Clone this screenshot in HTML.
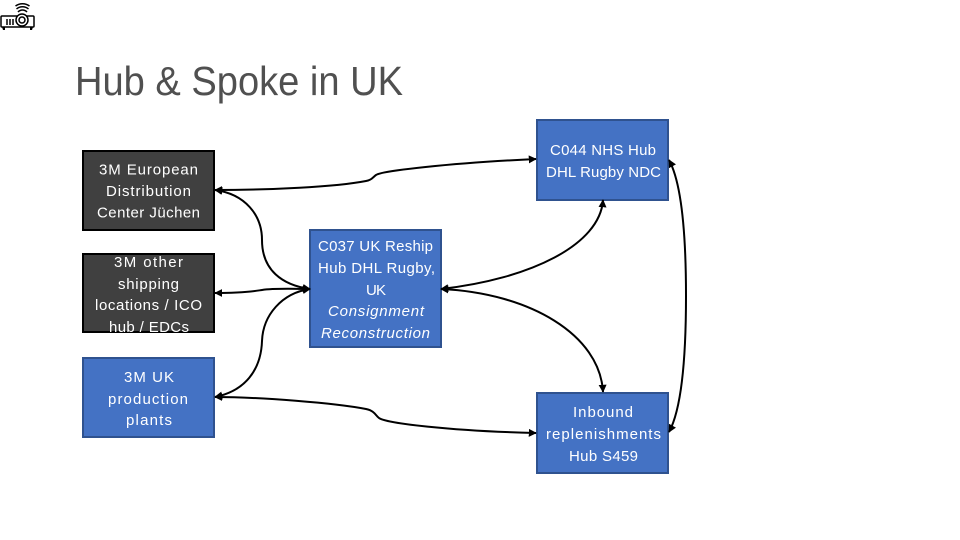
<!DOCTYPE html>
<html><head><meta charset="utf-8"><style>
html,body{margin:0;padding:0;background:#fff}
svg{display:block}
text{font-family:"Liberation Sans",sans-serif;font-size:15px;fill:#fff}
.c{fill:none;stroke:#000;stroke-width:2}
</style></head><body>
<svg width="960" height="540" viewBox="0 0 960 540" xmlns="http://www.w3.org/2000/svg">
<defs>
<marker id="a" viewBox="0 0 10 10" refX="9" refY="5" markerWidth="4" markerHeight="4" orient="auto-start-reverse"><path d="M0 0L10 5L0 10z" fill="#000"/></marker>
</defs>
<rect width="960" height="540" fill="#fff"/>
<!-- projector icon -->
<g fill="none" stroke="#000" stroke-width="1.5">
<rect x="1" y="16" width="33" height="11" rx="1"/>
<circle cx="22" cy="20" r="6" fill="#fff"/><circle cx="22" cy="20" r="3"/>
<path d="M7 19v6M10 19v6M13 19v6"/>
<path d="M18 12a6 6 0 0 1 9 0M16.500 9a9 9 0 0 1 12 0M15.500 6a12 12 0 0 1 14 0"/>
</g>
<path d="M2 27h3v3h-2zM30 27h3l-1 3h-2z" fill="#000"/>
<text x="75" y="95" textLength="328" lengthAdjust="spacingAndGlyphs" style="font-size:41px;fill:#505050">Hub &amp; Spoke in UK</text>
<!-- boxes -->
<g stroke-width="2">
<rect x="83" y="151" width="131" height="79" fill="#404040" stroke="#000"/>
<rect x="83" y="254" width="131" height="78" fill="#404040" stroke="#000"/>
<rect x="83" y="358" width="131" height="79" fill="#4472c4" stroke="#2f528f"/>
<rect x="310" y="230" width="131" height="117" fill="#4472c4" stroke="#2f528f"/>
<rect x="537" y="120" width="131" height="80" fill="#4472c4" stroke="#2f528f"/>
<rect x="537" y="393" width="131" height="80" fill="#4472c4" stroke="#2f528f"/>
</g>
<!-- connectors -->
<path class="c" marker-start="url(#a)" marker-end="url(#a)" d="M215 190C270 190 335 187 366 181C372 180 373 177 376 175C381 171 450 163 536 159"/>
<path class="c" marker-start="url(#a)" marker-end="url(#a)" d="M215 190C245 194 262 215 262 240C262 270 282 285 310 289"/>
<path class="c" marker-start="url(#a)" marker-end="url(#a)" d="M215 293C245 293 255 291 262 290C275 288 295 289 310 289"/>
<path class="c" marker-start="url(#a)" marker-end="url(#a)" d="M215 397C245 391 261 370 262 341C263 315 282 293 310 289"/>
<path class="c" marker-start="url(#a)" marker-end="url(#a)" d="M215 397C260 397 335 403 366 409C375 411 375 415 379 418C385 423 450 431 536 433"/>
<path class="c" marker-start="url(#a)" marker-end="url(#a)" d="M441 289C530 279 600 245 603 200"/>
<path class="c" marker-start="url(#a)" marker-end="url(#a)" d="M441 289C530 293 600 335 603 392"/>
<path class="c" marker-start="url(#a)" marker-end="url(#a)" d="M669 160C680 180 686 225 686 296C686 367 680 412 669 432"/>
<!-- labels -->
<text x="99" y="174.500" textLength="99">3M European</text>
<text x="106" y="196" textLength="85">Distribution</text>
<text x="97" y="217.500" textLength="103">Center Jüchen</text>
<text x="114" y="267" textLength="69">3M other</text>
<text x="118" y="289" textLength="61">shipping</text>
<text x="95" y="310" textLength="107">locations / ICO</text>
<text x="109" y="332" textLength="80">hub / EDCs</text>
<text x="124" y="382" textLength="50">3M UK</text>
<text x="108" y="404" textLength="80">production</text>
<text x="126" y="425" textLength="46">plants</text>
<text x="318" y="251" textLength="115">C037 UK Reship</text>
<text x="318" y="273" textLength="117">Hub DHL Rugby,</text>
<text x="366" y="295" textLength="20">UK</text>
<text x="328" y="316" textLength="96" font-style="italic">Consignment</text>
<text x="321" y="338" textLength="109" font-style="italic">Reconstruction</text>
<text x="550" y="155" textLength="106">C044 NHS Hub</text>
<text x="546" y="177" textLength="115">DHL Rugby NDC</text>
<text x="573" y="417" textLength="60">Inbound</text>
<text x="546" y="439" textLength="115">replenishments</text>
<text x="569" y="461" textLength="69">Hub S459</text>
</svg>
</body></html>
